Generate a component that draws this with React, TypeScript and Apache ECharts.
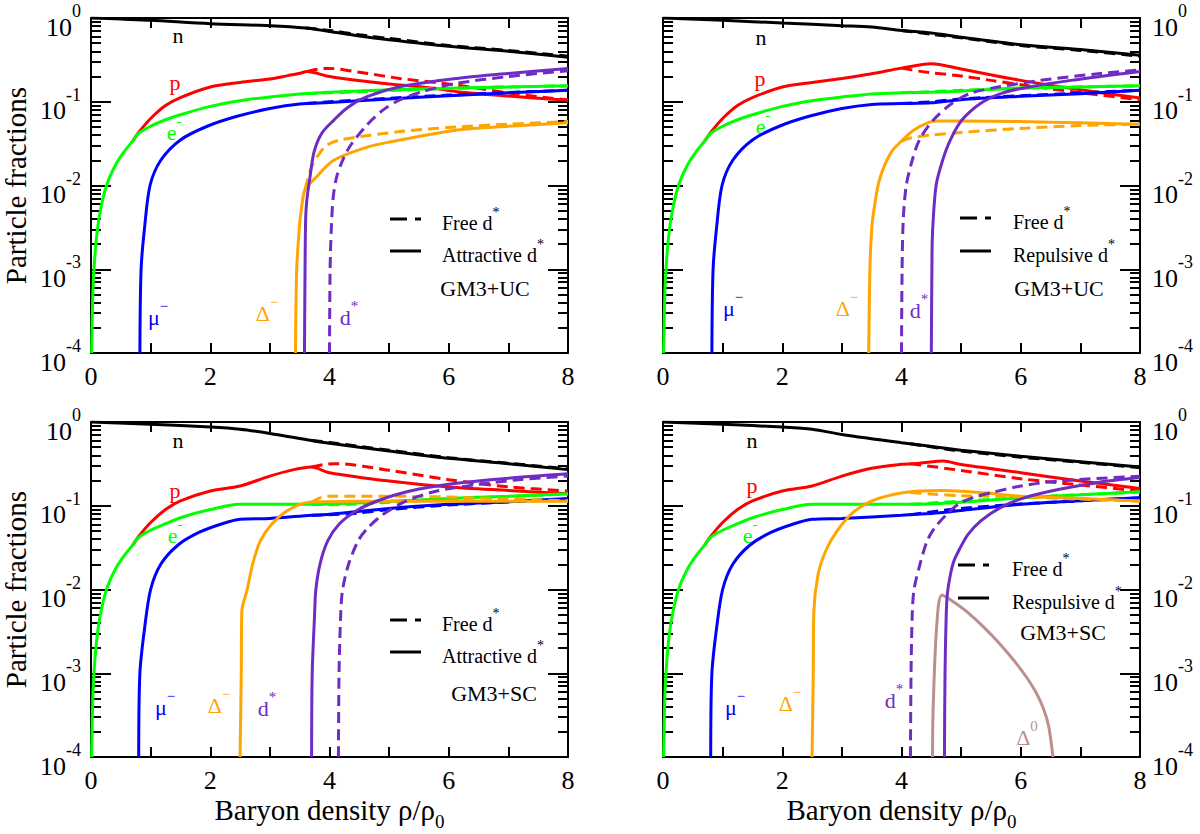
import { useEffect, useRef } from 'react';
import * as echarts from 'echarts';

type Pt = [number, number];

const SERIF = '"Liberation Serif", "DejaVu Serif", serif';

// x: baryon density rho/rho0, y: particle fraction

// ---- GM3+UC, attractive d* (top left) ----
const UC_ATT_N: Pt[] = [[0, 1], [0.5, 0.97], [1, 0.94], [2, 0.855], [3, 0.81], [3.6, 0.76], [4, 0.69], [4.5, 0.61], [5, 0.55], [6, 0.46], [7, 0.4], [8, 0.34]];
const UC_ATT_N_FREE: Pt[] = [[3.6, 0.76], [4, 0.71], [4.5, 0.63], [5, 0.57], [6, 0.47], [7, 0.41], [8, 0.35]];
const UC_ATT_P: Pt[] = [[0.7, 0.034], [0.8, 0.043], [1, 0.063], [1.25, 0.09], [1.5, 0.112], [2, 0.15], [2.5, 0.17], [3, 0.187], [3.3, 0.205], [3.51, 0.219], [3.62, 0.229], [4, 0.2], [4.63, 0.174], [5, 0.163], [5.74, 0.145], [6.14, 0.132], [7, 0.117], [8, 0.104]];
const UC_ATT_P_FREE: Pt[] = [[3.62, 0.229], [3.8, 0.245], [4, 0.25], [4.5, 0.225], [5.18, 0.19], [6.14, 0.158], [7, 0.127], [8, 0.105]];
const UC_ATT_E: Pt[] = [[0.01, 1e-4], [0.03, 5e-4], [0.05, 1e-3], [0.09, 2.3e-3], [0.15, 4.7e-3], [0.26, 0.01], [0.4, 0.017], [0.55, 0.025], [0.7, 0.034], [0.8, 0.042], [1, 0.051], [1.25, 0.061], [1.5, 0.07], [2, 0.088], [2.5, 0.103], [3, 0.114], [3.5, 0.124], [4, 0.13], [5, 0.139], [6, 0.145], [7, 0.15], [8, 0.155]];
const UC_ATT_E_FREE: Pt[] = [[3.6, 0.125], [4, 0.128], [5, 0.136], [6, 0.144], [7, 0.15], [8, 0.155]];
const UC_ATT_MU: Pt[] = [[0.82, 1e-4], [0.84, 1e-3], [0.9, 3.2e-3], [0.99, 0.01], [1.17, 0.02], [1.5, 0.035], [1.95, 0.051], [2.45, 0.067], [3, 0.083], [3.5, 0.094], [4, 0.098], [5, 0.108], [6, 0.118], [7, 0.128], [8, 0.137]];
const UC_ATT_MU_FREE: Pt[] = [[3.6, 0.095], [4, 0.1], [5, 0.11], [6, 0.12], [7, 0.129], [8, 0.137]];
const UC_ATT_DL: Pt[] = [[3.43, 1e-4], [3.45, 1e-3], [3.5, 3.5e-3], [3.52, 4.7e-3], [3.59, 9e-3], [3.76, 0.0122], [4.07, 0.02], [4.63, 0.0287], [5, 0.033], [6.14, 0.046], [7, 0.051], [8, 0.056]];
const UC_ATT_DL_FREE: Pt[] = [[3.59, 0.009], [3.65, 0.013], [3.72, 0.018], [3.79, 0.022], [3.95, 0.03], [4.18, 0.035], [5.18, 0.044], [6.14, 0.05], [7, 0.054], [8, 0.058]];
const UC_ATT_DS: Pt[] = [[3.58, 1e-4], [3.59, 1e-3], [3.6, 4e-3], [3.62, 0.0067], [3.67, 0.0122], [3.74, 0.025], [3.87, 0.042], [4.07, 0.06], [4.3, 0.085], [4.63, 0.115], [5.18, 0.151], [6.14, 0.19], [7, 0.218], [8, 0.25]];
const UC_ATT_DS_FREE: Pt[] = [[4, 1e-4], [4.01, 1e-3], [4.03, 3e-3], [4.06, 0.007], [4.12, 0.0127], [4.22, 0.02], [4.35, 0.03], [4.63, 0.053], [4.9, 0.08], [5.18, 0.105], [5.6, 0.135], [6.14, 0.166], [7, 0.2], [8, 0.235]];

// ---- GM3+UC, repulsive d* (top right) ----
const UC_REP_N: Pt[] = [[0, 1], [1, 0.94], [2, 0.87], [3, 0.81], [3.5, 0.78], [4, 0.71], [4.5, 0.66], [5, 0.59], [6, 0.48], [7, 0.42], [8, 0.36]];
const UC_REP_N_FREE: Pt[] = [[4, 0.71], [4.5, 0.64], [5, 0.58], [6, 0.47], [7, 0.41], [8, 0.35]];
const UC_REP_P: Pt[] = [[0.7, 0.034], [0.8, 0.043], [1, 0.063], [1.25, 0.09], [1.5, 0.112], [2, 0.15], [2.5, 0.17], [3, 0.19], [3.5, 0.216], [4, 0.252], [4.5, 0.285], [5, 0.246], [6, 0.18], [7, 0.139], [8, 0.111]];
const UC_REP_P_FREE: Pt[] = [[4, 0.252], [4.3, 0.232], [4.5, 0.222], [5, 0.203], [5.5, 0.18], [6, 0.16], [7, 0.128], [8, 0.106]];
const UC_REP_E: Pt[] = [[0.01, 1e-4], [0.03, 5e-4], [0.05, 1e-3], [0.09, 2.3e-3], [0.15, 4.7e-3], [0.26, 0.01], [0.4, 0.017], [0.55, 0.025], [0.7, 0.034], [0.8, 0.042], [1, 0.051], [1.25, 0.061], [1.5, 0.07], [2, 0.088], [2.5, 0.103], [3, 0.114], [3.5, 0.124], [4, 0.128], [4.5, 0.13], [5, 0.134], [6, 0.146], [7, 0.15], [8, 0.155]];
const UC_REP_E_FREE: Pt[] = [[4, 0.128], [4.5, 0.132], [5, 0.137], [6, 0.146], [8, 0.155]];
const UC_REP_MU: Pt[] = [[0.82, 1e-4], [0.84, 1e-3], [0.9, 3.2e-3], [0.99, 0.01], [1.17, 0.02], [1.5, 0.035], [1.95, 0.051], [2.45, 0.067], [3, 0.083], [3.5, 0.093], [4, 0.095], [4.5, 0.097], [5, 0.106], [6, 0.116], [7, 0.125], [8, 0.137]];
const UC_REP_MU_FREE: Pt[] = [[4, 0.095], [4.5, 0.1], [5, 0.108], [6, 0.118], [8, 0.137]];
const UC_REP_DL: Pt[] = [[3.45, 1e-4], [3.47, 1e-3], [3.5, 3e-3], [3.53, 4.7e-3], [3.63, 0.0117], [3.82, 0.0245], [4.02, 0.035], [4.21, 0.046], [4.47, 0.057], [4.6, 0.059], [5, 0.059], [6, 0.058], [7, 0.056], [8, 0.054]];
const UC_REP_DL_FREE: Pt[] = [[4, 0.034], [4.15, 0.037], [4.5, 0.04], [5, 0.043], [6, 0.048], [7, 0.052], [8, 0.054]];
const UC_REP_DS: Pt[] = [[4.5, 1e-4], [4.51, 1e-3], [4.52, 2.7e-3], [4.58, 0.01], [4.69, 0.02], [4.82, 0.035], [5.01, 0.06], [5.33, 0.096], [5.69, 0.127], [6.14, 0.15], [6.84, 0.18], [8, 0.23]];
const UC_REP_DS_FREE: Pt[] = [[4, 1e-4], [4.01, 1e-3], [4.03, 4e-3], [4.08, 0.01], [4.18, 0.02], [4.3, 0.035], [4.53, 0.06], [4.85, 0.096], [5.17, 0.127], [5.62, 0.15], [6.33, 0.18], [7.3, 0.216], [8, 0.24]];

// ---- GM3+SC, attractive d* (bottom left) ----
const SC_ATT_N: Pt[] = [[0, 1], [1, 0.94], [2, 0.87], [2.5, 0.82], [3, 0.73], [3.7, 0.6], [4, 0.556], [5, 0.45], [6, 0.368], [7, 0.318], [8, 0.27]];
const SC_ATT_N_FREE: Pt[] = [[3.7, 0.6], [4, 0.57], [5, 0.46], [6, 0.375], [7, 0.322], [8, 0.275]];
const SC_ATT_P: Pt[] = [[0.7, 0.034], [0.8, 0.043], [1, 0.063], [1.25, 0.09], [1.5, 0.114], [2, 0.15], [2.5, 0.172], [3, 0.226], [3.4, 0.27], [3.7, 0.29], [4, 0.248], [5, 0.197], [6, 0.167], [7, 0.152], [8, 0.139]];
const SC_ATT_P_FREE: Pt[] = [[3.7, 0.29], [3.9, 0.31], [4.1, 0.318], [5, 0.265], [6, 0.205], [7, 0.168], [8, 0.15]];
const SC_ATT_E: Pt[] = [[0.01, 1e-4], [0.03, 5e-4], [0.05, 1e-3], [0.09, 2.3e-3], [0.15, 4.7e-3], [0.26, 0.01], [0.4, 0.017], [0.55, 0.025], [0.7, 0.034], [0.8, 0.042], [1, 0.051], [1.25, 0.061], [1.5, 0.072], [2, 0.09], [2.5, 0.104], [3, 0.104], [3.7, 0.104], [4, 0.105], [5, 0.113], [6, 0.122], [7, 0.13], [8, 0.139]];
const SC_ATT_E_FREE: Pt[] = [[3.7, 0.104], [4, 0.103], [5, 0.11], [6, 0.12], [8, 0.138]];
const SC_ATT_MU: Pt[] = [[0.8, 1e-4], [0.82, 1e-3], [0.9, 3.5e-3], [1, 0.01], [1.17, 0.02], [1.46, 0.034], [1.81, 0.048], [2.2, 0.061], [2.5, 0.069], [3, 0.0706], [3.7, 0.077], [4, 0.079], [5, 0.093], [6, 0.104], [7, 0.112], [8, 0.122]];
const SC_ATT_MU_FREE: Pt[] = [[3.7, 0.077], [4, 0.078], [4.5, 0.082], [5, 0.09], [6, 0.102], [8, 0.12]];
const SC_ATT_DL: Pt[] = [[2.5, 1e-4], [2.52, 1e-3], [2.53, 5.5e-3], [2.62, 0.01], [2.71, 0.02], [2.84, 0.038], [3.03, 0.06], [3.29, 0.087], [3.61, 0.109], [4, 0.112], [5, 0.113], [6, 0.113], [7, 0.113], [8, 0.113]];
const SC_ATT_DL_FREE: Pt[] = [[3.7, 0.11], [3.85, 0.125], [4, 0.13], [5, 0.13], [6, 0.127], [7, 0.12], [8, 0.115]];
const SC_ATT_DS: Pt[] = [[3.7, 1e-4], [3.71, 1e-3], [3.75, 5e-3], [3.77, 0.0098], [3.84, 0.02], [3.97, 0.038], [4.16, 0.06], [4.45, 0.087], [4.8, 0.114], [5.35, 0.15], [6.06, 0.183], [6.96, 0.212], [8, 0.241]];
const SC_ATT_DS_FREE: Pt[] = [[4.15, 1e-4], [4.16, 1e-3], [4.19, 0.0055], [4.22, 0.01], [4.32, 0.02], [4.48, 0.038], [4.64, 0.054], [4.9, 0.079], [5.29, 0.114], [5.8, 0.15], [6.5, 0.18], [7.21, 0.206], [8, 0.226]];

// ---- GM3+SC, repulsive d* (bottom right) ----
const SC_REP_N: Pt[] = [[0, 1], [1, 0.94], [2, 0.87], [2.5, 0.82], [3, 0.71], [4, 0.566], [4.7, 0.49], [5, 0.46], [6, 0.39], [7, 0.336], [8, 0.29]];
const SC_REP_N_FREE: Pt[] = [[4.15, 0.55], [4.7, 0.48], [5, 0.45], [6, 0.38], [7, 0.33], [8, 0.285]];
const SC_REP_P: Pt[] = [[0.7, 0.034], [0.8, 0.043], [1, 0.063], [1.25, 0.09], [1.5, 0.114], [2, 0.15], [2.5, 0.172], [3, 0.226], [3.5, 0.28], [4, 0.312], [4.3, 0.322], [4.7, 0.342], [5, 0.31], [6, 0.248], [7, 0.197], [8, 0.161]];
const SC_REP_P_FREE: Pt[] = [[4.15, 0.318], [5, 0.264], [6, 0.21], [7, 0.177], [8, 0.15]];
const SC_REP_E: Pt[] = [[0.01, 1e-4], [0.03, 5e-4], [0.05, 1e-3], [0.09, 2.3e-3], [0.15, 4.7e-3], [0.26, 0.01], [0.4, 0.017], [0.55, 0.025], [0.7, 0.034], [0.8, 0.042], [1, 0.051], [1.25, 0.061], [1.5, 0.072], [2, 0.09], [2.5, 0.104], [3, 0.104], [4, 0.104], [4.7, 0.107], [5, 0.11], [6, 0.124], [7, 0.135], [8, 0.147]];
const SC_REP_E_FREE: Pt[] = [[4.15, 0.104], [4.7, 0.11], [5, 0.113], [6, 0.125], [8, 0.146]];
const SC_REP_MU: Pt[] = [[0.8, 1e-4], [0.82, 1e-3], [0.9, 3.5e-3], [1, 0.01], [1.17, 0.02], [1.46, 0.034], [1.81, 0.048], [2.2, 0.061], [2.5, 0.069], [3, 0.0706], [4, 0.077], [4.7, 0.083], [5, 0.088], [6, 0.104], [7, 0.115], [8, 0.125]];
const SC_REP_MU_FREE: Pt[] = [[4.15, 0.078], [4.7, 0.088], [5, 0.093], [6, 0.105], [8, 0.124]];
const SC_REP_DL: Pt[] = [[2.5, 1e-4], [2.52, 1e-3], [2.53, 5.5e-3], [2.6, 0.015], [2.73, 0.029], [2.92, 0.05], [3.18, 0.082], [3.5, 0.114], [4.02, 0.143], [4.66, 0.152], [5.37, 0.143], [6, 0.13], [6.65, 0.125], [8, 0.114]];
const SC_REP_DL_FREE: Pt[] = [[4.15, 0.144], [4.5, 0.138], [5, 0.132], [6, 0.128], [7, 0.12], [8, 0.113]];
const SC_REP_DS: Pt[] = [[4.72, 1e-4], [4.73, 1e-3], [4.75, 0.005], [4.77, 0.009], [4.82, 0.015], [4.88, 0.022], [4.97, 0.03], [5.11, 0.045], [5.33, 0.066], [5.66, 0.095], [6.07, 0.125], [6.65, 0.157], [7.3, 0.19], [8, 0.217]];
const SC_REP_DS_FREE: Pt[] = [[4.15, 1e-4], [4.16, 1e-3], [4.18, 5e-3], [4.21, 0.01], [4.31, 0.02], [4.43, 0.038], [4.56, 0.055], [4.76, 0.079], [4.95, 0.104], [5.2, 0.125], [5.5, 0.143], [6, 0.172], [6.65, 0.198], [8, 0.225]];
const SC_REP_D0: Pt[] = [[4.52, 1e-4], [4.53, 3.6e-4], [4.59, 0.0036], [4.68, 0.0086], [4.9, 0.0069], [5.1, 0.0054], [5.37, 0.0036], [5.65, 0.00224], [5.9, 0.00138], [6.1, 0.00089], [6.25, 0.0006], [6.38, 0.00038], [6.47, 0.00023], [6.54, 1e-4]];

const X_TICKS = [0, 1, 2, 3, 4, 5, 6, 7, 8];
const MODELS = ['GM3+UC', 'GM3+UC', 'GM3+SC', 'GM3+SC'];
const COUPLINGS = ['Attractive d', 'Repulsive d', 'Attractive d', 'Respulsive d'];

const COLORS: Record<string, string> = {
  n: '#000000', p: '#ff0000', e: '#00ff00', mu: '#0000ff', dl: '#ffa500', ds: '#6e2cc4', d0: '#bc8f8f',
};

type Curve = [Pt[], string, boolean];
const PANEL_CURVES: Curve[][] = [
  [[UC_ATT_N, 'n', false], [UC_ATT_N_FREE, 'n', true], [UC_ATT_P, 'p', false], [UC_ATT_P_FREE, 'p', true],
   [UC_ATT_E, 'e', false], [UC_ATT_E_FREE, 'e', true], [UC_ATT_MU, 'mu', false], [UC_ATT_MU_FREE, 'mu', true],
   [UC_ATT_DL, 'dl', false], [UC_ATT_DL_FREE, 'dl', true], [UC_ATT_DS, 'ds', false], [UC_ATT_DS_FREE, 'ds', true]],
  [[UC_REP_N, 'n', false], [UC_REP_N_FREE, 'n', true], [UC_REP_P, 'p', false], [UC_REP_P_FREE, 'p', true],
   [UC_REP_E, 'e', false], [UC_REP_E_FREE, 'e', true], [UC_REP_MU, 'mu', false], [UC_REP_MU_FREE, 'mu', true],
   [UC_REP_DL, 'dl', false], [UC_REP_DL_FREE, 'dl', true], [UC_REP_DS, 'ds', false], [UC_REP_DS_FREE, 'ds', true]],
  [[SC_ATT_N, 'n', false], [SC_ATT_N_FREE, 'n', true], [SC_ATT_P, 'p', false], [SC_ATT_P_FREE, 'p', true],
   [SC_ATT_E, 'e', false], [SC_ATT_E_FREE, 'e', true], [SC_ATT_MU, 'mu', false], [SC_ATT_MU_FREE, 'mu', true],
   [SC_ATT_DL, 'dl', false], [SC_ATT_DL_FREE, 'dl', true], [SC_ATT_DS, 'ds', false], [SC_ATT_DS_FREE, 'ds', true]],
  [[SC_REP_N, 'n', false], [SC_REP_N_FREE, 'n', true], [SC_REP_P, 'p', false], [SC_REP_P_FREE, 'p', true],
   [SC_REP_E, 'e', false], [SC_REP_E_FREE, 'e', true], [SC_REP_MU, 'mu', false], [SC_REP_MU_FREE, 'mu', true],
   [SC_REP_DL, 'dl', false], [SC_REP_DL_FREE, 'dl', true], [SC_REP_D0, 'd0', false],
   [SC_REP_DS, 'ds', false], [SC_REP_DS_FREE, 'ds', true]],
];

// layout (pixels)
const BOX = [
  { left: 91, top: 18 }, { left: 663, top: 18 }, { left: 91, top: 422 }, { left: 663, top: 422 },
];
const PW = 477;
const PH = 335;

// curve tags: [text, superscript, colour key, dx, dy] relative to panel corner
const TAGS: [string, string, string, number, number][][] = [
  [['n', '', 'n', 87, 17], ['p', '', 'p', 84, 64], ['e', '-', 'e', 83, 114], ['μ', '−', 'mu', 67, 299], ['Δ', '−', 'dl', 176, 295], ['d', '*', 'ds', 258, 299]],
  [['n', '', 'n', 98, 19], ['p', '', 'p', 97, 60], ['e', '-', 'e', 100, 108], ['μ', '−', 'mu', 70, 290], ['Δ', '−', 'dl', 184, 290], ['d', '*', 'ds', 256, 292]],
  [['n', '', 'n', 87, 18], ['p', '', 'p', 84, 68], ['e', '-', 'e', 84, 113], ['μ', '−', 'mu', 74, 285], ['Δ', '−', 'dl', 128, 283], ['d', '*', 'ds', 176, 286]],
  [['n', '', 'n', 89, 18], ['p', '', 'p', 89, 63], ['e', '-', 'e', 87, 113], ['μ', '−', 'mu', 72, 285], ['Δ', '−', 'dl', 127, 281], ['d', '*', 'ds', 231, 278], ['Δ', '0', 'd0', 364, 315]],
];

// in-panel legend: [sample x, dashed y, solid y, text x, model centre x, model y]
const LEG = [
  [299, 201, 233, 351, 394, 270],
  [297, 200, 233, 350, 396, 270],
  [299, 198, 230, 351, 403, 271],
  [295, 143, 176, 349, 400, 210],
];

function tagText(main: string, sup: string, size: number, supSize: number, color: string) {
  return {
    text: sup ? `{m|${main}}{s|${sup}}` : `{m|${main}}`,
    rich: {
      m: { fontSize: size, fontFamily: SERIF, fill: color, padding: sup ? [Math.round(size * 0.35), 0, 0, 0] : 0 },
      s: { fontSize: supSize, fontFamily: SERIF, fill: color, verticalAlign: 'top' },
    },
  };
}

function powLabel(v: number) {
  const e = Math.round(Math.log10(v));
  return `{b|10}{s|${e}}`;
}

const POW_RICH = {
  b: { fontSize: 26, fontFamily: SERIF, color: '#000', padding: [12, 0, 0, 0] },
  s: { fontSize: 18, fontFamily: SERIF, color: '#000', verticalAlign: 'top' },
};

export default function App() {
  const chartRef = useRef<HTMLDivElement>(null);

  useEffect(() => {
    if (!chartRef.current) return;
    document.body.style.margin = '0';
    const chart = echarts.init(chartRef.current, null, { renderer: 'svg' });

    const axisLine = { show: true, onZero: false, lineStyle: { color: '#000', width: 2 } };
    const grid: any[] = [];
    const xAxis: any[] = [];
    const yAxis: any[] = [];
    const series: any[] = [];
    const graphic: any[] = [];

    BOX.forEach((b, k) => {
      grid.push({ left: b.left, top: b.top, width: PW, height: PH, containLabel: false, outerBoundsMode: 'none' });
      [false, true].forEach((top) => {
        xAxis.push({
          type: 'value', gridIndex: k, min: X_TICKS[0], max: X_TICKS[X_TICKS.length - 1], interval: 1,
          position: top ? 'top' : 'bottom',
          axisLine, splitLine: { show: false },
          axisTick: { inside: true, length: 10, lineStyle: { color: '#000', width: 2 } },
          axisLabel: {
            show: !top, margin: 10, fontSize: 26, fontFamily: SERIF, color: '#000',
            showMinLabel: true, showMaxLabel: true,
            formatter: (v: number) => (v % 2 === 0 ? String(v) : ''),
          },
        });
      });
      [false, true].forEach((right) => {
        const showLabel = right === (k % 2 === 1);
        yAxis.push({
          type: 'log', logBase: 10, gridIndex: k, min: 1e-4, max: 1, splitNumber: 4,
          position: right ? 'right' : 'left',
          axisLine, splitLine: { show: false },
          axisTick: { inside: true, length: 20, lineStyle: { color: '#000', width: 2 } },
          minorTick: { show: true, splitNumber: 9, length: 10, lineStyle: { color: '#000', width: 2 } },
          axisLabel: {
            show: showLabel, margin: right ? 12 : 10, showMinLabel: true, showMaxLabel: true,
            padding: [6, 0, 0, 0],
            formatter: powLabel, rich: POW_RICH,
          },
        });
      });

      PANEL_CURVES[k].forEach(([data, key, dashed]) => {
        series.push({
          type: 'line', xAxisIndex: 2 * k, yAxisIndex: 2 * k, data,
          showSymbol: false, symbol: 'none', smooth: 0.3, silent: true,
          lineStyle: { color: COLORS[key], width: 3, type: dashed ? [11, 6] : 'solid' },
          z: 2,
        });
      });

      TAGS[k].forEach(([t, sup, key, dx, dy]) => {
        graphic.push({
          type: 'text', x: b.left + dx, y: b.top + dy - (sup ? 4 : 0), silent: true,
          style: {
            ...tagText(t, sup, 22, 15, COLORS[key]),
            align: 'center', verticalAlign: 'middle', textAlign: 'center', textVerticalAlign: 'middle',
          },
        });
      });

      const [sx, dashY, solidY, tx, mx, my] = LEG[k];
      graphic.push(
        { type: 'line', silent: true, shape: { x1: b.left + sx, y1: b.top + dashY, x2: b.left + sx + 31, y2: b.top + dashY }, style: { stroke: '#000', lineWidth: 3, lineDash: [17, 8] } },
        { type: 'line', silent: true, shape: { x1: b.left + sx, y1: b.top + solidY, x2: b.left + sx + 31, y2: b.top + solidY }, style: { stroke: '#000', lineWidth: 3 } },
        {
          type: 'text', silent: true, x: b.left + tx, y: b.top + dashY,
          style: { ...tagText('Free d', '*', 20, 14, '#000'), align: 'left', verticalAlign: 'middle', textAlign: 'left', textVerticalAlign: 'middle' },
        },
        {
          type: 'text', silent: true, x: b.left + tx, y: b.top + solidY,
          style: { ...tagText(COUPLINGS[k], '*', 20, 14, '#000'), align: 'left', verticalAlign: 'middle', textAlign: 'left', textVerticalAlign: 'middle' },
        },
        {
          type: 'text', silent: true, x: b.left + mx, y: b.top + my,
          style: { text: MODELS[k], fontSize: 22, fontFamily: SERIF, fill: '#000', align: 'center', verticalAlign: 'middle', textAlign: 'center', textVerticalAlign: 'middle' },
        },
      );
    });

    // axis titles
    [0, 2].forEach((k) => {
      graphic.push({
        type: 'text', silent: true, x: 16, y: BOX[k].top + PH / 2, rotation: Math.PI / 2,
        style: { text: 'Particle fractions', fontSize: 29, fontFamily: SERIF, fill: '#000', align: 'center', verticalAlign: 'middle', textAlign: 'center', textVerticalAlign: 'middle' },
      });
    });
    [2, 3].forEach((k) => {
      graphic.push({
        type: 'text', silent: true, x: BOX[k].left + PW / 2, y: 795,
        style: {
          text: '{m|Baryon density ρ/ρ}{s|0}',
          rich: {
            m: { fontSize: 29, lineHeight: 30, fontFamily: SERIF, fill: '#000', verticalAlign: 'top' },
            s: { fontSize: 19, lineHeight: 19, fontFamily: SERIF, fill: '#000', verticalAlign: 'top', padding: [17, 0, 0, 0] },
          },
          align: 'center', verticalAlign: 'top', textAlign: 'center', textVerticalAlign: 'top',
        },
      });
    });

    chart.setOption({
      animation: false,
      backgroundColor: '#ffffff',
      grid, xAxis, yAxis, series, graphic,
    });

    return () => {
      chart.dispose();
    };
  }, []);

  return <div ref={chartRef} style={{ width: 1200, height: 834 }} />;
}
